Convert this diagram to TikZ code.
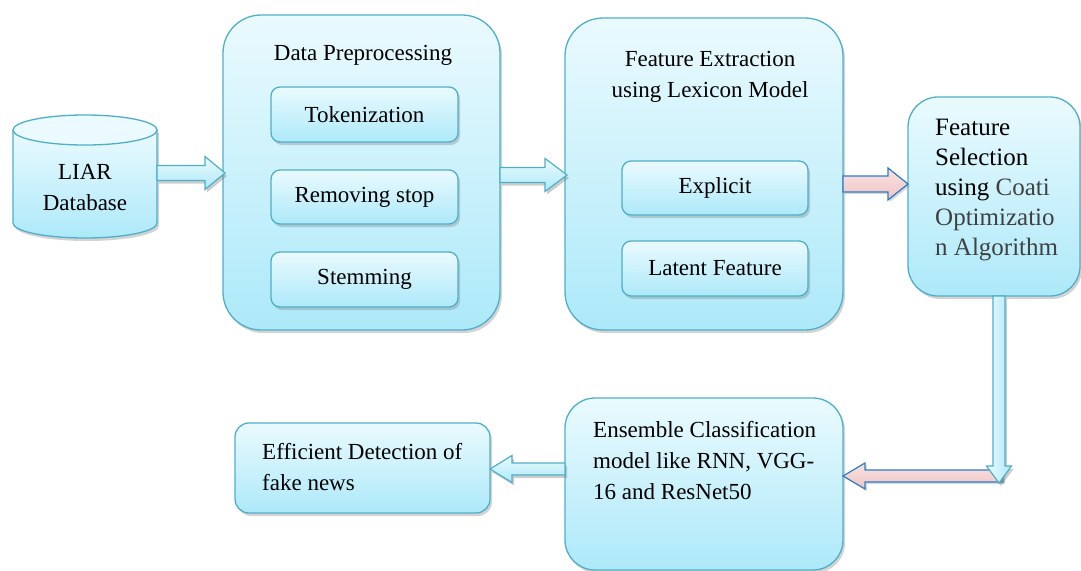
\documentclass[tikz,border=0pt]{standalone}
\usepackage{fontspec}
\setmainfont{Liberation Serif}
\usetikzlibrary{shadows,calc}
\definecolor{bord}{HTML}{4FAFC8}
\definecolor{ftop}{HTML}{EAFAFE}
\definecolor{fbot}{HTML}{ADE9F9}
\definecolor{ptop}{HTML}{F9E3E3}
\definecolor{pbot}{HTML}{EFC3C3}
\definecolor{pbord}{HTML}{2F7CC6}
\definecolor{dgray}{HTML}{404040}
\tikzset{
  boxbase/.style={draw=bord, line width=1.3pt, top color=ftop, bottom color=fbot,
    drop shadow={opacity=0.35, shadow xshift=2pt, shadow yshift=-3pt}},
  bigbox/.style={boxbase, rounded corners=38pt},
  smallbox/.style={boxbase, rounded corners=9pt},
  midbox/.style={boxbase, rounded corners=14pt},
  lbl/.style={font=\fontsize{23}{31}\selectfont, align=center, inner sep=0pt},
  lblleft/.style={font=\fontsize{23}{31}\selectfont, align=left, inner sep=0pt},
  blue arrow/.style={draw=bord, line width=1.2pt, top color=ftop, bottom color=fbot,
    drop shadow={opacity=0.4, shadow xshift=2pt, shadow yshift=-3pt}},
  pink arrow/.style={draw=pbord, line width=1.2pt, top color=ptop, bottom color=pbot,
    drop shadow={opacity=0.3, shadow xshift=2pt, shadow yshift=-2pt}},
  vblue arrow/.style={draw=bord, line width=1.2pt, left color=ftop, right color=fbot,
    drop shadow={opacity=0.4, shadow xshift=2pt, shadow yshift=-3pt}},
}
% horizontal block arrow: style, from, to, half shaft, half head, signed head length
\newcommand\harrow[6]{%
  \path[#1] let \p1=#2, \p2=#3 in
  (\x1,\y1+#4) -- (\x2-#6,\y1+#4) -- (\x2-#6,\y1+#5) -- (\x2,\y1) --
  (\x2-#6,\y1-#5) -- (\x2-#6,\y1-#4) -- (\x1,\y1-#4) -- cycle;}
% vertical block arrow: style, from, to, half shaft, half head, signed head length
\newcommand\varrow[6]{%
  \path[#1] let \p1=#2, \p2=#3 in
  (\x1+#4,\y1) -- (\x1+#4,\y2-#6) -- (\x1+#5,\y2-#6) -- (\x1,\y2) --
  (\x1-#5,\y2-#6) -- (\x1-#4,\y2-#6) -- (\x1-#4,\y1) -- cycle;}
\begin{document}
\begin{tikzpicture}[x=1pt,y=-1pt]
\useasboundingbox (0,0) rectangle (1081,570);

% LIAR database cylinder
\path[boxbase] (13,130) -- (13,223) arc[start angle=180, end angle=0, x radius=72, y radius=15]
  -- (157,130) -- cycle;
\draw[draw=bord, line width=1.3pt, fill=ftop] (85,130) ellipse[x radius=72, y radius=15];
\node[lbl] (db) at (85,188) {LIAR\\Database};
\coordinate (dbE) at (157,173);

% Data preprocessing
\node[bigbox, minimum width=277pt, minimum height=315pt] (dp) at (361.5,172.5) {};
\node[lbl] (dpt) at (363,55) {Data Preprocessing};
\node[smallbox, minimum width=187pt, minimum height=55pt] (tok) at (364.5,114.5) {};
\node[lbl] at (tok) {Tokenization};
\node[smallbox, minimum width=187pt, minimum height=54pt] (rem) at (364.5,197) {};
\node[lbl] at (rem) {Removing stop};
\node[smallbox, minimum width=187pt, minimum height=55pt] (stem) at (364.5,279.5) {};
\node[lbl] at (stem) {Stemming};

% Feature extraction
\node[bigbox, minimum width=278pt, minimum height=312pt] (fe) at (704,174) {};
\node[lbl] (fet) at (710,77) {Feature Extraction\\using Lexicon Model};
\node[smallbox, minimum width=186pt, minimum height=54pt] (exp) at (715,188) {};
\node[lbl] at (exp) {Explicit};
\node[smallbox, minimum width=186pt, minimum height=55pt] (lat) at (715,268.5) {};
\node[lbl] at (lat) {Latent Feature};

% Feature selection
\node[bigbox, rounded corners=30pt, minimum width=172pt, minimum height=199pt] (fs) at (994,196.5) {};
\node[font=\fontsize{25}{30}\selectfont, align=left, inner sep=0pt, anchor=north west] (fst) at (935,119)
  {Feature\\Selection\\using \textcolor{dgray}{Coati}\\\textcolor{dgray}{Optimizatio}\\\textcolor{dgray}{n Algorithm}};

% Ensemble
\node[bigbox, rounded corners=30pt, minimum width=278pt, minimum height=172pt] (ens) at (704,484) {};
\node[lblleft, anchor=north west] (enst) at (593,421) {Ensemble Classification\\model like RNN, VGG-\\16 and ResNet50};

% Efficient detection
\node[midbox, minimum width=255pt, minimum height=90pt] (eff) at (362.5,468) {};
\node[lblleft, anchor=north west] (efft) at (262,443) {Efficient Detection of\\fake news};

% arrows
\coordinate (dpW) at (225,173);
\harrow{blue arrow}{(dbE)}{(dpW)}{7.5pt}{16.5pt}{20pt}
\coordinate (dpE) at (500,175);
\coordinate (feW) at (567,175);
\harrow{blue arrow}{(dpE)}{(feW)}{7.5pt}{16.5pt}{22pt}
\coordinate (feE) at (843,184);
\coordinate (fsW) at (908,184);
\harrow{pink arrow}{(feE)}{(fsW)}{8pt}{16pt}{20pt}
\coordinate (turn) at (1003,476);
\coordinate (ensE) at (843,476);
\harrow{pink arrow}{(turn)}{(ensE)}{6pt}{13pt}{-22pt}
\coordinate (fsS) at (999,296);
\coordinate (down) at (999,483);
\varrow{vblue arrow}{(fsS)}{(down)}{6pt}{12.5pt}{-17pt}
\coordinate (ensW) at (565,469);
\coordinate (effE) at (490,469);
\harrow{blue arrow}{(ensW)}{(effE)}{6pt}{13.5pt}{-22pt}
\end{tikzpicture}
\end{document}
